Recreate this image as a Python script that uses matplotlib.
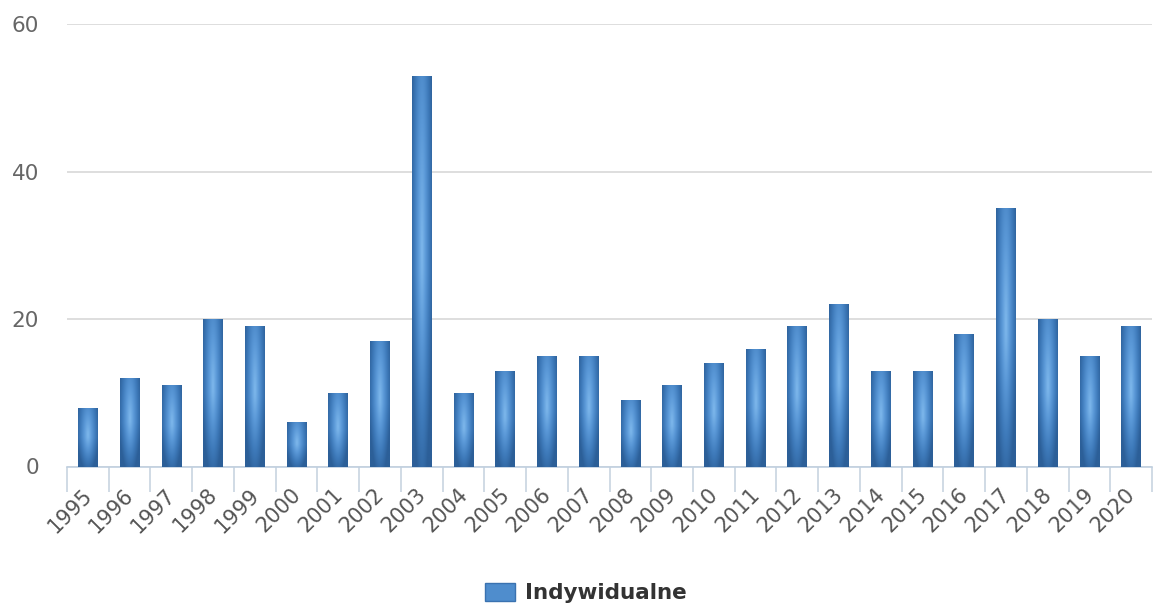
import numpy as np
import matplotlib
matplotlib.use("Agg")
import matplotlib.pyplot as plt
import matplotlib.transforms as mtransforms
from matplotlib.colors import LinearSegmentedColormap
from matplotlib.patches import Rectangle

# Data
years = [str(y) for y in range(1995, 2021)]
values = [8, 12, 11, 20, 19, 6, 10, 17, 53, 10, 13, 15, 15, 9, 11, 14, 16, 19, 22, 13, 13, 18, 35, 20, 15, 19]
series_name = "Indywidualne"
y_ticks = [0, 20, 40, 60]

plt.rcParams['font.family'] = ['DejaVu Sans']

fig = plt.figure(figsize=(11.55, 6.1), dpi=100)
ax = fig.add_axes([67 / 1155, 1 - 466.5 / 610, (1152 - 67) / 1155, 442.5 / 610])

x = np.arange(len(years))
bars = ax.bar(x, values, width=0.47, color='none', edgecolor='none', zorder=3)

# radial gradient for each bar, clipped to the bar rectangle
cmap = LinearSegmentedColormap.from_list('bar', ['#7eb8ec', '#5a98d7', '#3e7aba', '#2c5f98'])
gx = np.linspace(-1, 1, 60)
gy = np.linspace(-1, 1, 200)
GX, GY = np.meshgrid(gx, gy)
grad = np.sqrt(GX ** 2 * 0.72 + (GY - 0.1) ** 2 * 0.25) + 0.3 * np.clip(-GY, 0, 1)
grad = np.clip(grad, 0, 1)
for b in bars:
    x0, y0 = b.get_x(), b.get_y()
    w, h = b.get_width(), b.get_height()
    im = ax.imshow(grad, cmap=cmap, vmin=0, vmax=1, extent=[x0, x0 + w, y0, y0 + h],
                   origin='lower', aspect='auto', zorder=3, interpolation='bilinear')
    im.set_clip_path(b)

ax.set_xlim(-0.5, len(years) - 0.5)
ax.set_ylim(0, 60)
ax.set_yticks(y_ticks)
ax.set_yticklabels([str(t) for t in y_ticks])
ax.grid(axis='y', color='#d8d8d8', linewidth=1.2, zorder=0)
ax.set_axisbelow(True)

for s in ['top', 'right', 'left']:
    ax.spines[s].set_visible(False)
ax.spines['bottom'].set_color('#c0d0e0')
ax.spines['bottom'].set_linewidth(1.2)

# category ticks on boundaries
ax.set_xticks(np.arange(len(years) + 1) - 0.5, minor=True)
ax.tick_params(axis='x', which='minor', length=18, width=1.2, color='#c8d4e0')
ax.set_xticks(x)
ax.set_xticklabels(years, rotation=45, ha='right', rotation_mode='anchor')
ax.tick_params(axis='x', which='major', length=0, pad=13, labelsize=15, labelcolor='#555555')
ax.tick_params(axis='y', length=0, pad=20, labelsize=15.5, labelcolor='#666666')

# nudge year labels a bit left
shift = mtransforms.ScaledTranslation(-6 / 100, 0, fig.dpi_scale_trans)
for lab in ax.get_xticklabels():
    lab.set_transform(lab.get_transform() + shift)

# legend
fig.patches.append(Rectangle((485 / 1155, 1 - 601 / 610), 30 / 1155, 18 / 610,
                             transform=fig.transFigure, facecolor='#4f8dcd', edgecolor='#3a72b0'))
fig.text(525 / 1155, 1 - 593 / 610, series_name, fontsize=15.5, fontweight='bold',
         color='#333333', va='center', ha='left')

fig.savefig('out.png', dpi=100)
